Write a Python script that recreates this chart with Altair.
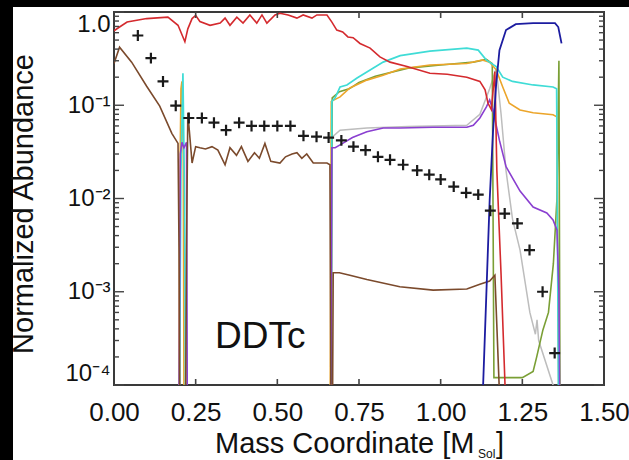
import math
import altair as alt
import pandas as pd

FONT = "Liberation Sans"

# ---------------- data ----------------
red_x = [0.0, 0.017, 0.04, 0.10, 0.165, 0.196, 0.217, 0.226, 0.239, 0.25, 0.263, 0.294, 0.325, 0.34, 0.355,
         0.376, 0.395, 0.416, 0.437, 0.453, 0.468, 0.493, 0.508, 0.533, 0.56, 0.579, 0.606, 0.621, 0.652, 0.667,
         0.682, 0.70, 0.716, 0.732, 0.753, 0.784, 0.814, 0.845, 0.897, 0.967, 1.02, 1.08, 1.12, 1.136, 1.145,
         1.155, 1.166, 1.172, 1.185, 1.197, 1.205]
red_y = [0.63, 0.69, 0.78, 0.85, 0.88, 0.72, 0.48, 0.66, 0.85, 0.92, 0.79, 0.72, 0.76, 0.86, 0.72,
         0.88, 0.76, 0.93, 0.76, 0.93, 0.76, 0.93, 0.97, 0.93, 0.86, 0.93, 0.86, 0.93, 0.93, 0.78,
         0.64, 0.61, 0.54, 0.53, 0.46, 0.41, 0.33, 0.29, 0.26, 0.22, 0.215, 0.20, 0.18, 0.146, 0.105,
         0.09, 0.23, 0.02, 0.0015, 1e-4, 1e-5]

brown_x = [0.0, 0.017, 0.054, 0.10, 0.14, 0.177, 0.196, 0.199, 0.203, 0.218, 0.222, 0.226, 0.239, 0.25, 0.263,
           0.28, 0.30, 0.318, 0.34, 0.355, 0.375, 0.39, 0.41, 0.43, 0.445, 0.462, 0.48, 0.508, 0.525, 0.545,
           0.56, 0.575, 0.59, 0.61, 0.652, 0.661, 0.665, 0.668, 0.671, 0.69, 0.722, 0.774, 0.875, 0.977, 1.08,
           1.12, 1.15, 1.166, 1.19]
brown_y = [0.28, 0.42, 0.29, 0.16, 0.098, 0.05, 0.039, 0.003, 1e-5, 1e-5, 0.003, 0.083, 0.024, 0.036, 0.035,
           0.034, 0.036, 0.033, 0.023, 0.035, 0.029, 0.036, 0.025, 0.031, 0.027, 0.039, 0.025, 0.024, 0.028, 0.030,
           0.031, 0.027, 0.030, 0.024, 0.024, 0.023, 1e-5, 1e-5, 0.0016, 0.0016, 0.0015, 0.00135, 0.00113, 0.00104, 0.00107,
           0.0012, 0.0013, 0.0015, 1e-5]

cyan_x = [0.199, 0.205, 0.211, 0.216, 0.22, 0.664, 0.667, 0.677, 0.692, 0.713, 0.744, 0.774, 0.824, 0.876, 0.967,
          1.08, 1.115, 1.14, 1.17, 1.19, 1.22, 1.283, 1.344, 1.355, 1.362]
cyan_y = [1e-5, 0.02, 0.22, 0.01, 1e-5, 1e-5, 0.11, 0.12, 0.157, 0.165, 0.196, 0.227, 0.29, 0.34, 0.38,
          0.41, 0.39, 0.305, 0.26, 0.20, 0.18, 0.165, 0.157, 0.15, 1e-5]

orange_x = [0.197, 0.202, 0.205, 0.208, 0.212, 0.215, 0.661, 0.665, 0.692, 0.722, 0.774, 0.824, 0.876, 0.967, 1.08,
            1.127, 1.15, 1.17, 1.19, 1.21, 1.243, 1.283, 1.344, 1.356, 1.363]
orange_y = [1e-5, 0.02, 0.15, 0.18, 0.03, 1e-5, 1e-5, 0.11, 0.123, 0.153, 0.186, 0.21, 0.245, 0.27, 0.28,
            0.305, 0.29, 0.24, 0.157, 0.105, 0.089, 0.083, 0.079, 0.075, 1e-5]

green_x = [0.664, 0.668, 0.69, 0.72, 0.75, 0.80, 0.90, 1.0, 1.1, 1.14, 1.158, 1.163, 1.25, 1.283, 1.294,
           1.313, 1.33, 1.345, 1.356, 1.362, 1.366]
green_y = [1e-5, 0.12, 0.14, 0.15, 0.175, 0.205, 0.25, 0.27, 0.29, 0.31, 0.28, 1.2e-4, 1.2e-4, 1.4e-4, 2e-4,
           3.9e-4, 6e-4, 2e-3, 0.01, 0.3, 1e-5]

purple_x = [0.198, 0.203, 0.208, 0.214, 0.222, 0.225, 0.663, 0.667, 0.677, 0.70, 0.73, 0.774, 0.824, 0.876, 0.977,
            1.08, 1.10, 1.12, 1.14, 1.15, 1.16, 1.18, 1.20, 1.243, 1.283, 1.325, 1.344, 1.356, 1.362, 1.366]
purple_y = [1e-5, 0.03, 0.04, 0.035, 0.04, 1e-5, 1e-5, 0.035, 0.035, 0.039, 0.045, 0.052, 0.057, 0.057, 0.058,
            0.058, 0.061, 0.073, 0.096, 0.114, 0.089, 0.042, 0.022, 0.012, 0.0081, 0.007, 0.0059, 0.0046, 1e-3, 1e-5]

gray_x = [0.662, 0.666, 0.692, 0.774, 0.90, 1.08, 1.12, 1.15, 1.17, 1.185, 1.20, 1.22, 1.243, 1.273, 1.29,
          1.295, 1.30, 1.344, 1.352]
gray_y = [1e-5, 0.045, 0.054, 0.057, 0.059, 0.061, 0.08, 0.15, 0.25, 0.08, 0.02, 0.006, 0.0028, 6e-4, 3.5e-4,
          5e-4, 3e-4, 1e-4, 1e-5]

blue_x = [1.128, 1.13, 1.15, 1.16, 1.17, 1.18, 1.20, 1.23, 1.283, 1.35, 1.36, 1.37]
blue_y = [1e-5, 1e-4, 0.0096, 0.05, 0.17, 0.39, 0.64, 0.74, 0.76, 0.76, 0.69, 0.46]

plus_x = [0.073, 0.113, 0.150, 0.189, 0.229, 0.269, 0.306, 0.343, 0.383, 0.421, 0.46, 0.50, 0.54, 0.58, 0.62,
          0.657, 0.696, 0.733, 0.77, 0.808, 0.845, 0.885, 0.928, 0.965, 1.0, 1.04, 1.078, 1.115, 1.152, 1.196,
          1.235, 1.272, 1.312, 1.349]
plus_y = [0.56, 0.32, 0.18, 0.099, 0.073, 0.073, 0.065, 0.054, 0.065, 0.06, 0.06, 0.06, 0.06, 0.047, 0.046,
          0.045, 0.042, 0.036, 0.033, 0.028, 0.026, 0.023, 0.020, 0.018, 0.016, 0.0134, 0.0115, 0.011, 0.0074, 0.0069,
          0.0054, 0.0028, 0.001, 0.00022]

label_text = ["DDTc"]
label_x = [0.309]
label_y = [2.5e-4]

x_ticks = [0.0, 0.25, 0.5, 0.75, 1.0, 1.25, 1.5]
x_inner_ticks = [0.25, 0.5, 0.75, 1.0, 1.25]
y_ticks = [1.0, 0.1, 0.01, 0.001, 0.0001]
y_labels = ["1.0", "10⁻¹", "10⁻²", "10⁻³", "10⁻⁴"]
y_minor = [m * d for d in [0.1, 0.01, 0.001, 0.0001] for m in range(2, 10)]

x_title = "Mass Coordinate [M"
x_title_sub = "Sol"
y_title = "Normalized Abundance"

# ---------------- layout ----------------
W, H = 490, 373
PAD = {"left": 114, "top": 12, "right": 25, "bottom": 75}

XS = alt.Scale(domain=[0, 1.5], nice=False, zero=False)
YS = alt.Scale(type="log", domain=[1e-4, 1.0], nice=False)

conds = " : ".join(
    f"abs(log(datum.value)/LN10 - ({round(math.log10(v))})) < 0.01 ? '{l}'" for v, l in zip(y_ticks, y_labels)
)
y_label_expr = conds + " : ''"

XA = alt.Axis(values=x_ticks, format=".2f", labelFlush=False, ticks=False, tickSize=0, domain=False,
              grid=False, labelFontSize=26, labelFont=FONT, labelColor="#111", labelPadding=14)
YA = alt.Axis(values=y_ticks, labelExpr=y_label_expr, labelFlush=True, ticks=False, tickSize=0, domain=False,
              grid=False, labelFontSize=24, labelFont=FONT, labelColor="#111", labelPadding=4)


def X(field):
    return alt.X(f"{field}:Q", scale=XS, axis=XA, title=None)


def Y(field):
    return alt.Y(f"{field}:Q", scale=YS, axis=YA, title=None)


one = pd.DataFrame({"a": [0]})
layers = []

# black strips of the original picture's border
layers.append(alt.Chart(one).mark_rect(color="black").encode(
    x=alt.value(-PAD["left"]), x2=alt.value(-101), y=alt.value(-PAD["top"]), y2=alt.value(460 - PAD["top"])))
layers.append(alt.Chart(one).mark_rect(color="black").encode(
    x=alt.value(-PAD["left"]), x2=alt.value(629 - PAD["left"]), y=alt.value(-PAD["top"]), y2=alt.value(-5)))

series = [
    (gray_x, gray_y, "#bdbdbd", 1.5),
    (green_x, green_y, "#7a9f35", 1.6),
    (orange_x, orange_y, "#eca52a", 1.6),
    (cyan_x, cyan_y, "#3fdcd6", 1.7),
    (purple_x, purple_y, "#8a3fd0", 1.6),
    (brown_x, brown_y, "#7b4a2c", 1.6),
    (red_x, red_y, "#d42a2e", 1.6),
    (blue_x, blue_y, "#1c1ca0", 1.8),
]
for xs, ys, col, sw in series:
    df = pd.DataFrame({"x": xs, "y": ys, "i": list(range(len(xs)))})
    layers.append(alt.Chart(df).mark_line(color=col, strokeWidth=sw, clip=True).encode(
        x=X("x"), y=Y("y"), order="i:Q"))

plus_df = pd.DataFrame({"x": plus_x, "y": plus_y})
layers.append(alt.Chart(plus_df).mark_point(
    shape="M-1,0L1,0M0,-1L0,1", filled=False, stroke="#1a1a1a", strokeWidth=2.2, size=120, opacity=1
).encode(x=X("x"), y=Y("y")))

lab_df = pd.DataFrame({"x": label_x, "y": label_y, "t": label_text})
layers.append(alt.Chart(lab_df).mark_text(align="left", baseline="alphabetic", fontSize=37, font=FONT,
                                          color="#111").encode(x=X("x"), y=Y("y"), text="t:N"))

# inward ticks
TICK = "#444"
xt = pd.DataFrame({"v": x_inner_ticks})
layers.append(alt.Chart(xt).mark_rule(color=TICK, strokeWidth=1.6).encode(
    x=X("v"), y=alt.value(0), y2=alt.value(6)))
layers.append(alt.Chart(xt).mark_rule(color=TICK, strokeWidth=1.6).encode(
    x=X("v"), y=alt.value(H - 6), y2=alt.value(H)))
yt = pd.DataFrame({"v": y_ticks})
ym = pd.DataFrame({"v": y_minor})
for d, ln in ((yt, 10), (ym, 5)):
    layers.append(alt.Chart(d).mark_rule(color=TICK, strokeWidth=1.4).encode(
        y=Y("v"), x=alt.value(0), x2=alt.value(ln)))
    layers.append(alt.Chart(d).mark_rule(color=TICK, strokeWidth=1.4).encode(
        y=Y("v"), x=alt.value(W - ln), x2=alt.value(W)))

# axis titles
layers.append(alt.Chart(one).mark_text(text=x_title, align="left", baseline="alphabetic", fontSize=29,
                                       font=FONT, color="#111").encode(x=alt.value(101), y=alt.value(441)))
layers.append(alt.Chart(one).mark_text(text=x_title_sub, align="left", baseline="alphabetic", fontSize=12,
                                       font=FONT, color="#111").encode(x=alt.value(364), y=alt.value(446)))
layers.append(alt.Chart(one).mark_text(text="]", align="left", baseline="alphabetic", fontSize=29,
                                       font=FONT, color="#111").encode(x=alt.value(382), y=alt.value(441)))
layers.append(alt.Chart(one).mark_text(text=y_title, align="center", baseline="middle", fontSize=29, angle=270,
                                       font=FONT, color="#111").encode(x=alt.value(-90), y=alt.value(192)))

chart = alt.layer(*layers).properties(
    width=W, height=H, padding=PAD, autosize=alt.AutoSizeParams(type="none"), background="white"
).configure_view(stroke="#3a3a3a", strokeWidth=2)

chart.save("out.html", embed_options={"renderer": "svg", "actions": False})
